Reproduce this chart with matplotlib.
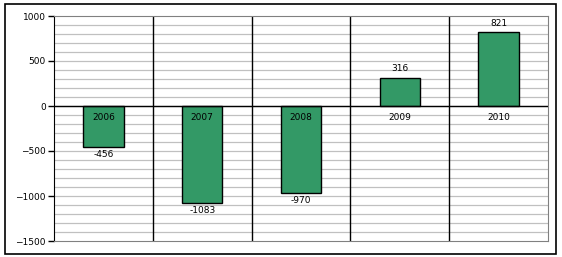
import matplotlib.pyplot as plt
import matplotlib.patches as mpatches
import numpy as np

# chart data
years = ["2006", "2007", "2008", "2009", "2010"]
values = [-456, -1083, -970, 316, 821]

W, H = 562, 257
fig = plt.figure(figsize=(W / 100, H / 100), dpi=100)
fig.patch.set_facecolor("white")

# outer frame around the whole chart
frame = mpatches.Rectangle((5 / W, 3 / H), 551 / W, 250 / H, transform=fig.transFigure,
                           fill=False, edgecolor="black", linewidth=1.2)
fig.patches.append(frame)

ax = fig.add_axes([54 / W, (H - 241) / H, 494 / W, 225 / H])
x = np.arange(len(years))
ax.set_xlim(-0.5, len(years) - 0.5)
ax.set_ylim(-1500, 1000)

# gridlines every 100
for yv in range(-1400, 1000, 100):
    ax.axhline(yv, color="#c0c0c0", linewidth=0.9, zorder=0)
ax.axhline(0, color="black", linewidth=1, zorder=3)
for xv in x[:-1] + 0.5:
    ax.axvline(xv, color="black", linewidth=1, zorder=1)

ax.bar(x, values, width=0.41, color="#339966", edgecolor="black", linewidth=1, zorder=2)

fs = 6.5
for xi, yr, v in zip(x, years, values):
    ax.text(xi, -75, yr, ha="center", va="top", fontsize=fs, zorder=4)
    if v < 0:
        ax.text(xi, v - 30, str(v), ha="center", va="top", fontsize=fs, zorder=4)
    else:
        ax.text(xi, v + 50, str(v), ha="center", va="bottom", fontsize=fs, zorder=4)

ax.set_xticks([])
ax.set_yticks(range(-1500, 1001, 500))
ax.tick_params(axis="y", length=4, width=1, labelsize=fs, pad=2, direction="out")
for s in ["top", "right", "bottom"]:
    ax.spines[s].set_color("#808080")
ax.spines["left"].set_color("black")

fig.savefig("out.png", dpi=100)
